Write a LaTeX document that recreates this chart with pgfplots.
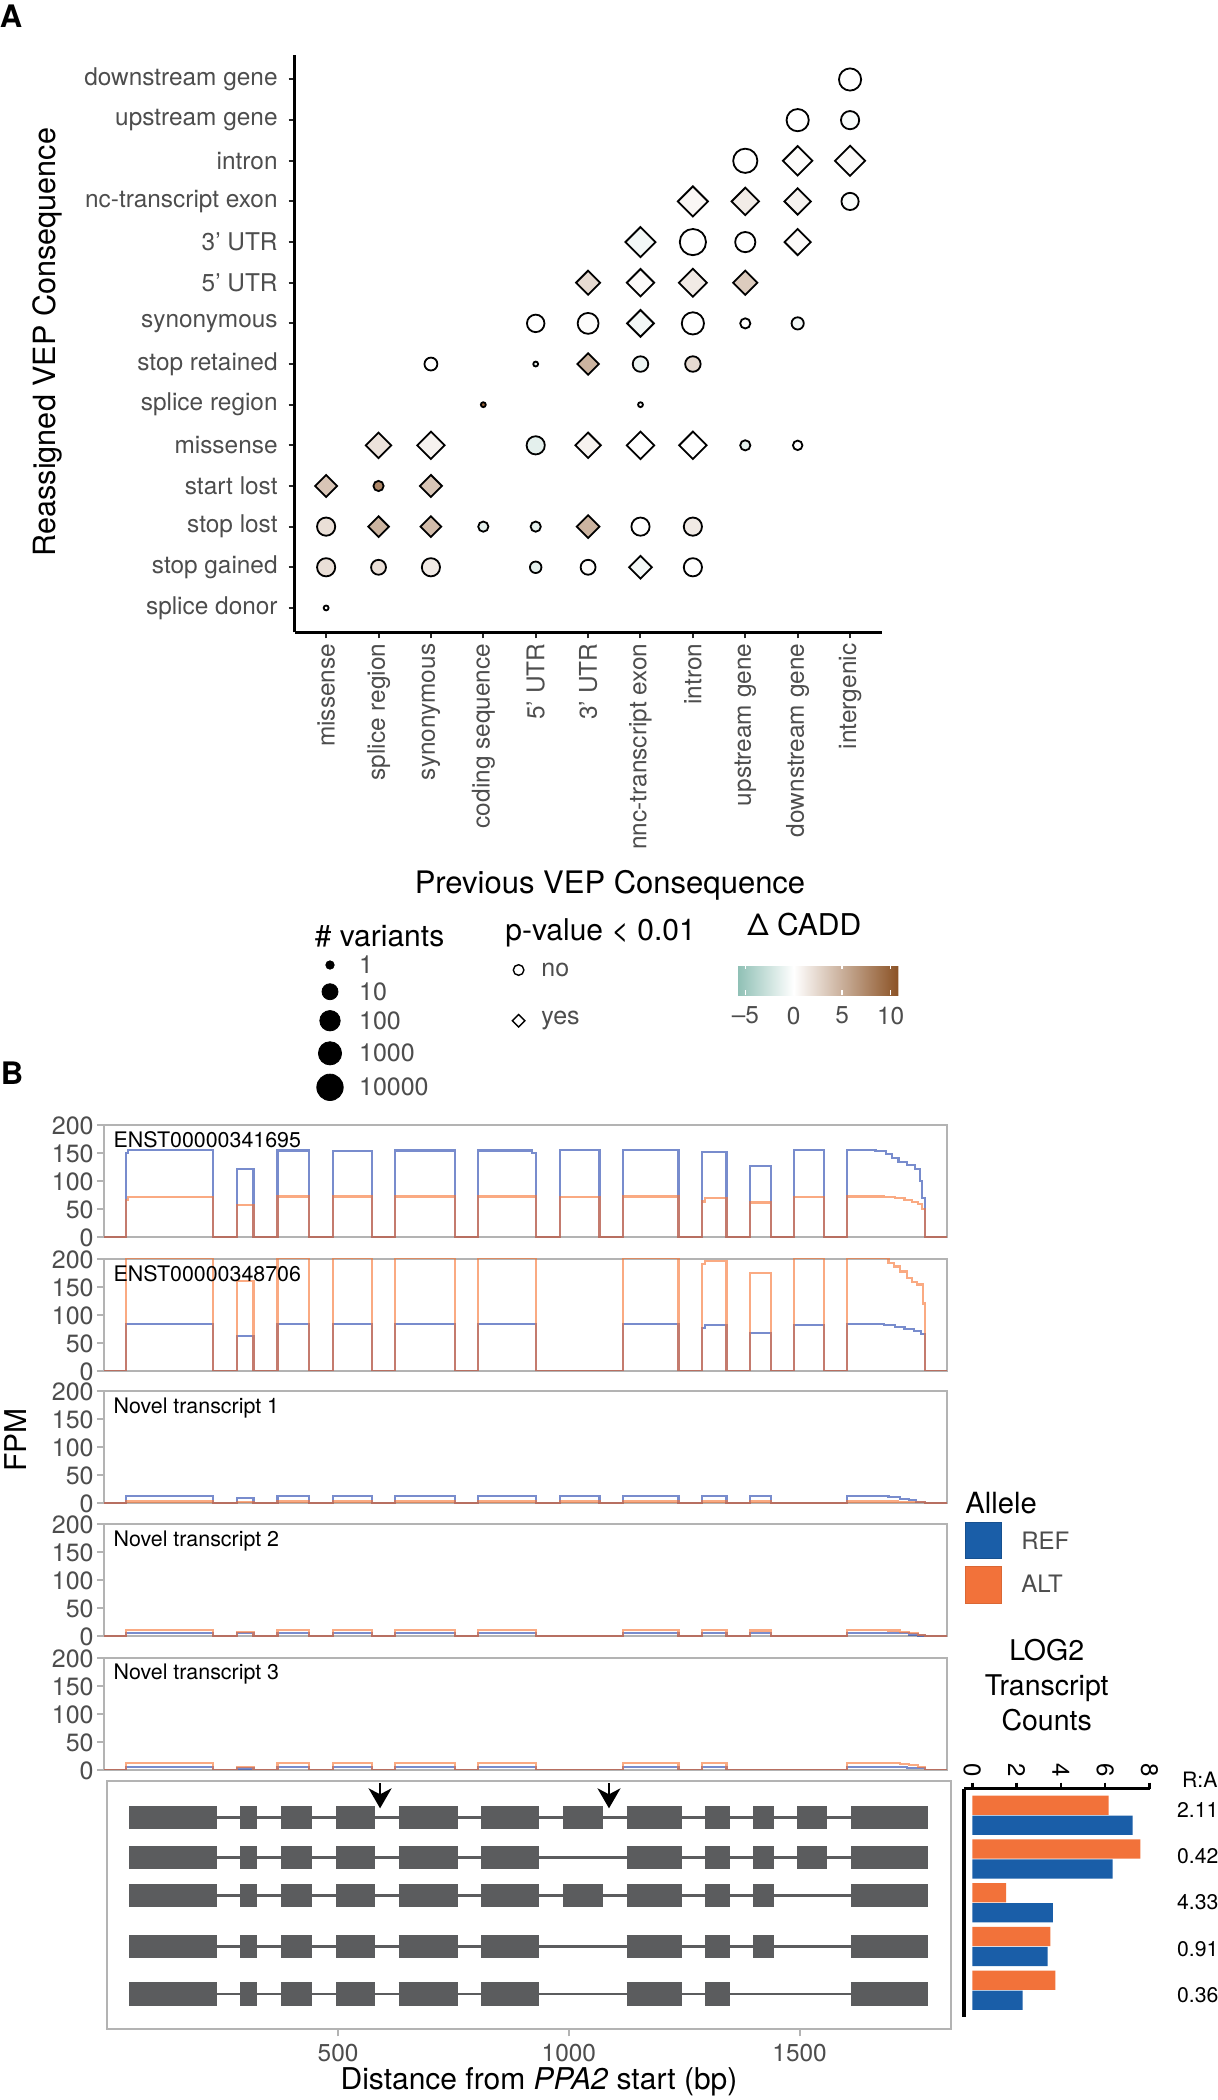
\documentclass[border=0pt]{standalone}
\usepackage{fontspec}
\setmainfont{TeX Gyre Heros}
\usepackage{pgfplots}
\usepackage{pgfplotstable}
\pgfplotsset{compat=1.18}
\usetikzlibrary{arrows.meta,calc}

\definecolor{tickgray}{HTML}{4D4D4D}
\definecolor{framegray}{HTML}{B3B3B3}
\definecolor{refbar}{HTML}{1A5EA8}
\definecolor{altbar}{HTML}{F2723A}
\definecolor{refline}{HTML}{1E3FAC}
\definecolor{altline}{HTML}{F7712F}
\definecolor{exon}{HTML}{5B5C5E}

\newcommand\fs[1]{\fontsize{#1}{#1}\selectfont}

% panel A: circles (p >= 0.01) and diamonds (p < 0.01); d = marker size in px, c = delta CADD
\pgfplotstableread{
x y d c
11 14 24 0
10 13 24 0
11 13 20 -0.4
9 12 26 0
11 11 19 -0.3
8 10 28 0
9 10 22 0
5 8 19.3 0
6 8 22.7 0.2
8 8 24 0
9 8 12 0
10 8 14 -0.6
3 7 14.7 0
5 7 6.7 -1
7 7 17.3 -1
8 7 17.3 2.3
4 6 6.7 9.7
7 6 6.7 0
5 5 20 -1.4
9 5 12 -1.4
10 5 11.3 0
2 4 12 7.5
1 3 20 2
4 3 12 -1.4
5 3 12 -1.4
7 3 20 0
8 3 20 1.3
1 2 20 2
2 2 16.7 2
3 2 20 1.3
5 2 13.3 -1.4
6 2 16.7 0.2
8 2 20 0
1 1 6.7 0
}\circA

\pgfplotstableread{
x y d c
10 12 32 0.2
11 12 32.7 0.3
8 11 32.7 0.5
9 11 30 1.2
10 11 29 0.8
7 10 32.7 -0.6
10 10 28.7 0.3
6 9 26.7 2.3
7 9 30 0.3
8 9 30.7 1.3
9 9 26.7 3.2
7 8 29.3 -0.6
6 7 24 4.7
2 5 28 1.8
3 5 30 0.8
6 5 28 0.8
7 5 30 0
8 5 30 0
1 4 24.7 3.6
3 4 24.7 3.6
2 3 23.3 4.7
3 3 23.3 4.2
6 3 25.3 4.7
7 2 25.3 -0.6
}\diamA

\pgfplotsset{
  /pgf/number format/assume math mode=true,
  /pgf/number format/1000 sep={},
  cov/.style={scale only axis, width=421.5pt, height=56.05pt, anchor=north west,
    xmin=0, xmax=1827, ymin=0, ymax=200, ytick={0,50,100,150,200}, xtick=\empty,
    axis line style={draw=framegray, line width=1pt},
    tick align=outside, major tick length=3.5pt, ytick pos=left,
    y tick style={draw=framegray, line width=1pt},
    yticklabel style={font=\fs{12.5}, text=tickgray, inner sep=0pt, anchor=east, yshift=-0.5pt},
    yticklabel shift=1.5pt, clip=true},
  refl/.style={const plot, no marks, draw=refline, line width=1.1pt, draw opacity=0.6},
  altl/.style={const plot, no marks, draw=altline, line width=1.1pt, draw opacity=0.6},
}
\tikzset{tname/.style={anchor=north west, inner sep=0pt, font=\fs{10.7}, xshift=4.65pt, yshift=-3.15pt}}

\begin{document}
\begin{tikzpicture}
\useasboundingbox (0,0) rectangle (608.5pt,-1050pt);

% ---------------- panel A ----------------
\begin{axis}[
  at={(147.35pt,-27.55pt)}, anchor=north west,
  scale only axis, width=293.4pt, height=288.6pt,
  xmin=0.4, xmax=11.6, ymin=0.4, ymax=14.6,
  axis lines*=left, axis line style={line width=1.5pt, black},
  xtick={1,...,11}, ytick={1,...,14},
  xticklabels={missense, splice region, synonymous, coding sequence, 5’ UTR, 3’ UTR, nnc-transcript exon, intron, upstream gene, downstream gene, intergenic},
  yticklabels={splice donor, stop gained, stop lost, start lost, missense, splice region, stop retained, synonymous, 5’ UTR, 3’ UTR, nc-transcript exon, intron, upstream gene, downstream gene},
  tick align=outside, major tick length=3pt, tick style={line width=1pt, black!85},
  xticklabel style={rotate=90, anchor=east, inner sep=0pt, font=\fs{12.2}, text=tickgray},
  yticklabel style={anchor=east, inner sep=0pt, font=\fs{12.2}, text=tickgray},
  xticklabel shift=2.5pt, yticklabel shift=5.35pt,
  colormap={cadd}{rgb255(0pt)=(143,192,181) rgb255(29pt)=(255,255,255) rgb255(83pt)=(139,82,37)},
  point meta min=-5.8, point meta max=10.8,
  colorbar horizontal,
  colorbar style={
    at={($(parent axis.south west)+(221.45pt,-157.2pt)$)}, anchor=north west,
    scale only axis, width=80.35pt, height=15.8pt,
    xtick={-5,0,5,10}, xticklabels={--5,0,5,10},
    xticklabel style={font=\fs{12.2}, text=tickgray, inner sep=0pt},
    xticklabel shift=5.6pt, axis line style={draw=none},
    tick align=inside, major tick length=2.5pt,
    xtick style={draw=white, line width=0.8pt}, xtick pos=both, xticklabel pos=lower},
  clip=false,
]
\addplot[scatter, only marks, mark=*, scatter src=explicit,
  scatter/use mapped color={draw=black, fill=mapped color},
  visualization depends on={\thisrow{d}\as\msz},
  scatter/@pre marker code/.append style={/tikz/mark size={\msz/4-0.45}},
  mark options={line width=0.9pt}]
  table[x=x, y=y, meta=c] {\circA};
\addplot[scatter, only marks, mark=square*, scatter src=explicit,
  scatter/use mapped color={draw=black, fill=mapped color},
  visualization depends on={\thisrow{d}\as\msz},
  scatter/@pre marker code/.append style={/tikz/mark size={(\msz/4-0.64)/1.4142}},
  mark options={line width=0.9pt, rotate=45}]
  table[x=x, y=y, meta=c] {\diamA};
\end{axis}

% ---------------- panel B: coverage ----------------
\begin{axis}[cov, at={(52pt,-562.6pt)}]
\addplot[refl] coordinates {(0,0)(48,150)(52,156)(237,0)(288,122)(324,0)(376,155)(444,0)(496,154)(581,0)(631,155)(760,0)(810,155)(928,150)(936,0)(988,156)(1074,0)(1125,156)(1245,0)(1296,152)(1349,0)(1400,127)(1445,0)(1495,156)(1560,0)(1611,156)(1672,154)(1695,148)(1708,141)(1722,135)(1740,129)(1758,122)(1768,100)(1773,70)(1779,0)(1827,0)};
\addplot[altl] coordinates {(0,0)(48,66)(52,72)(237,0)(288,58)(324,0)(376,73)(444,0)(496,73)(581,0)(631,73)(760,0)(810,73)(936,0)(988,72)(1074,0)(1125,73)(1245,0)(1296,64)(1303,70)(1349,0)(1400,62)(1445,0)(1495,72)(1560,0)(1611,73)(1690,72)(1715,70)(1735,67)(1752,63)(1765,59)(1773,50)(1779,0)(1827,0)};
\node[tname] at (rel axis cs:0,1) {ENST00000341695};
\end{axis}

\begin{axis}[cov, at={(52pt,-629.3pt)}]
\addplot[refl] coordinates {(0,0)(48,83)(237,0)(288,62)(324,0)(376,83)(444,0)(496,83)(581,0)(631,83)(760,0)(810,83)(936,0)(1125,83)(1245,0)(1296,76)(1303,81)(1349,0)(1400,68)(1445,0)(1495,81)(1560,0)(1611,83)(1690,81)(1715,78)(1735,75)(1755,71)(1770,66)(1779,0)(1827,0)};
\addplot[altl] coordinates {(0,0)(48,201)(237,0)(288,160)(324,0)(376,201)(444,0)(496,201)(581,0)(631,201)(760,0)(810,201)(936,0)(1125,201)(1245,0)(1296,190)(1303,196)(1349,0)(1400,174)(1445,0)(1495,201)(1560,0)(1611,201)(1700,192)(1712,186)(1725,177)(1740,165)(1752,158)(1762,154)(1775,120)(1779,0)(1827,0)};
\node[tname] at (rel axis cs:0,1) {ENST00000348706};
\end{axis}

\begin{axis}[cov, at={(52pt,-695.5pt)}]
\addplot[refl] coordinates {(0,0)(48,12)(237,0)(288,9)(324,0)(376,12)(444,0)(496,12)(581,0)(631,12)(760,0)(810,12)(936,0)(988,12)(1074,0)(1125,12)(1245,0)(1296,12)(1349,0)(1400,12)(1445,0)(1611,12)(1700,11)(1725,8)(1745,5)(1760,2)(1779,0)(1827,0)};
\addplot[altl] coordinates {(0,0)(48,3)(237,0)(288,2)(324,0)(376,3)(444,0)(496,3)(581,0)(631,3)(760,0)(810,3)(936,0)(988,3)(1074,0)(1125,3)(1245,0)(1296,3)(1349,0)(1400,3)(1445,0)(1611,3)(1720,2)(1779,0)(1827,0)};
\node[tname] at (rel axis cs:0,1) {Novel transcript 1};
\end{axis}

\begin{axis}[cov, at={(52pt,-762pt)}]
\addplot[refl] coordinates {(0,0)(48,6)(237,0)(288,5)(324,0)(376,6)(444,0)(496,6)(581,0)(631,6)(760,0)(810,6)(936,0)(1125,6)(1245,0)(1296,6)(1349,0)(1400,6)(1445,0)(1611,6)(1720,5)(1745,3)(1765,1)(1779,0)(1827,0)};
\addplot[altl] coordinates {(0,0)(48,10.5)(237,0)(288,7)(324,0)(376,10.5)(444,0)(496,10.5)(581,0)(631,10.5)(760,0)(810,10.5)(936,0)(1125,10.5)(1245,0)(1296,10.5)(1349,0)(1400,10)(1445,0)(1611,10.5)(1700,10)(1725,8)(1745,5)(1765,2)(1779,0)(1827,0)};
\node[tname] at (rel axis cs:0,1) {Novel transcript 2};
\end{axis}

\begin{axis}[cov, at={(52pt,-828.75pt)}]
\addplot[refl] coordinates {(0,0)(48,5)(237,0)(288,2)(324,0)(376,5)(444,0)(496,5)(581,0)(631,5)(760,0)(810,5)(936,0)(1125,5)(1245,0)(1296,5)(1349,0)(1611,5)(1740,3)(1779,0)(1827,0)};
\addplot[altl] coordinates {(0,0)(48,12.5)(237,0)(288,5)(324,0)(376,12.5)(444,0)(496,12.5)(581,0)(631,12.5)(760,0)(810,12.5)(936,0)(1125,12.5)(1245,0)(1296,12.5)(1349,0)(1611,12.5)(1700,12)(1725,10)(1745,8)(1765,5)(1779,0)(1827,0)};
\node[tname] at (rel axis cs:0,1) {Novel transcript 3};
\end{axis}

% ---------------- panel B: transcript models ----------------
\begin{axis}[
  at={(53.65pt,-890.5pt)}, anchor=north west,
  scale only axis, width=421.85pt, height=124.15pt,
  xmin=0, xmax=1828, ymin=-2029.3, ymax=-1781,
  xtick={500,1000,1500}, ytick=\empty, xtick pos=left,
  axis line style={draw=framegray, line width=1pt},
  tick align=outside, major tick length=3.5pt,
  x tick style={draw=framegray, line width=1pt},
  xticklabel style={font=\fs{12.2}, text=tickgray, inner sep=0pt},
  xticklabel shift=3.85pt,
  unbounded coords=jump, clip=false,
]
\addplot[draw=exon, line width=1.35pt] coordinates {(48,-1817.7)(1779,-1817.7)(nan,nan)(48,-1857.5)(1779,-1857.5)(nan,nan)(48,-1895.8)(1779,-1895.8)(nan,nan)(48,-1946.5)(1779,-1946.5)(nan,nan)(48,-1994)(1779,-1994)};
\addplot[draw=exon, line width=11.65pt] coordinates {(48,-1817.7)(237,-1817.7)(nan,nan)(288,-1817.7)(324,-1817.7)(nan,nan)(376,-1817.7)(444,-1817.7)(nan,nan)(496,-1817.7)(581,-1817.7)(nan,nan)(631,-1817.7)(760,-1817.7)(nan,nan)(810,-1817.7)(936,-1817.7)(nan,nan)(988,-1817.7)(1074,-1817.7)(nan,nan)(1125,-1817.7)(1245,-1817.7)(nan,nan)(1296,-1817.7)(1349,-1817.7)(nan,nan)(1400,-1817.7)(1445,-1817.7)(nan,nan)(1495,-1817.7)(1560,-1817.7)(nan,nan)(1611,-1817.7)(1779,-1817.7)};
\addplot[draw=exon, line width=11.65pt] coordinates {(48,-1857.5)(237,-1857.5)(nan,nan)(288,-1857.5)(324,-1857.5)(nan,nan)(376,-1857.5)(444,-1857.5)(nan,nan)(496,-1857.5)(581,-1857.5)(nan,nan)(631,-1857.5)(760,-1857.5)(nan,nan)(810,-1857.5)(936,-1857.5)(nan,nan)(1125,-1857.5)(1245,-1857.5)(nan,nan)(1296,-1857.5)(1349,-1857.5)(nan,nan)(1400,-1857.5)(1445,-1857.5)(nan,nan)(1495,-1857.5)(1560,-1857.5)(nan,nan)(1611,-1857.5)(1779,-1857.5)};
\addplot[draw=exon, line width=11.65pt] coordinates {(48,-1895.8)(237,-1895.8)(nan,nan)(288,-1895.8)(324,-1895.8)(nan,nan)(376,-1895.8)(444,-1895.8)(nan,nan)(496,-1895.8)(581,-1895.8)(nan,nan)(631,-1895.8)(760,-1895.8)(nan,nan)(810,-1895.8)(936,-1895.8)(nan,nan)(988,-1895.8)(1074,-1895.8)(nan,nan)(1125,-1895.8)(1245,-1895.8)(nan,nan)(1296,-1895.8)(1349,-1895.8)(nan,nan)(1400,-1895.8)(1445,-1895.8)(nan,nan)(1611,-1895.8)(1779,-1895.8)};
\addplot[draw=exon, line width=11.65pt] coordinates {(48,-1946.5)(237,-1946.5)(nan,nan)(288,-1946.5)(324,-1946.5)(nan,nan)(376,-1946.5)(444,-1946.5)(nan,nan)(496,-1946.5)(581,-1946.5)(nan,nan)(631,-1946.5)(760,-1946.5)(nan,nan)(810,-1946.5)(936,-1946.5)(nan,nan)(1125,-1946.5)(1245,-1946.5)(nan,nan)(1296,-1946.5)(1349,-1946.5)(nan,nan)(1400,-1946.5)(1445,-1946.5)(nan,nan)(1611,-1946.5)(1779,-1946.5)};
\addplot[draw=exon, line width=11.65pt] coordinates {(48,-1994)(237,-1994)(nan,nan)(288,-1994)(324,-1994)(nan,nan)(376,-1994)(444,-1994)(nan,nan)(496,-1994)(581,-1994)(nan,nan)(631,-1994)(760,-1994)(nan,nan)(810,-1994)(936,-1994)(nan,nan)(1125,-1994)(1245,-1994)(nan,nan)(1296,-1994)(1349,-1994)(nan,nan)(1611,-1994)(1779,-1994)};
\draw[line width=1pt, -{Stealth[length=10pt, width=11.5pt, inset=3pt]}] (axis cs:591,-1783) -- (axis cs:591,-1808.3);
\draw[line width=1pt, -{Stealth[length=10pt, width=11.5pt, inset=3pt]}] (axis cs:1087,-1783) -- (axis cs:1087,-1808.3);
\end{axis}

% ---------------- panel B: LOG2 transcript counts ----------------
\begin{axis}[
  at={(482pt,-894.25pt)}, anchor=north west,
  scale only axis, width=93pt, height=114pt,
  xmin=-0.375, xmax=8.03, ymin=0.398, ymax=5.609,
  axis x line*=top, axis y line*=left,
  axis line style={line width=1.6pt, black},
  xtick={0,2,4,6,8}, ytick=\empty,
  tick align=outside, major tick length=3pt,
  x tick style={line width=1.2pt, black},
  xticklabel style={rotate=-90, anchor=east, inner sep=0pt, font=\fs{12}},
  xticklabel shift=2.4pt,
]
\addplot[xbar, bar width=9.6pt, bar shift=0pt, fill=altbar, draw=none] coordinates {(6.16,5.2286)(7.6,4.2286)(1.53,3.2286)(3.53,2.2286)(3.75,1.2286)};
\addplot[xbar, bar width=9.6pt, bar shift=0pt, fill=refbar, draw=none] coordinates {(7.24,4.7714)(6.34,3.7714)(3.64,2.7714)(3.40,1.7714)(2.27,0.7714)};
\end{axis}

% ---------------- titles, legends, labels (pixel grid of the figure) ----------------
\begin{axis}[
  at={(0pt,0pt)}, anchor=north west, scale only axis,
  width=608.5pt, height=1050pt,
  xmin=0, xmax=1217, ymin=-2100, ymax=0,
  hide axis, clip=false,
]
\node[font=\fs{15.5}\bfseries] at (axis cs:11,-16.5) {A};
\node[font=\fs{15.5}\bfseries] at (axis cs:12,-1073) {B};
\node[rotate=90, font=\fs{15.3}] at (axis cs:47.6,-342) {Reassigned VEP Consequence};
\node[font=\fs{15.5}] at (axis cs:610,-885) {Previous VEP Consequence};
\node[anchor=west, inner sep=0pt, font=\fs{15}] at (axis cs:314.4,-936) {\# variants};
\node[anchor=west, inner sep=0pt, font=\fs{15}] at (axis cs:505,-933.3) {p-value < 0.01};
\node[anchor=west, inner sep=0pt, font=\fs{15}] at (axis cs:747,-925) {Δ CADD};
\addplot[only marks, mark=*, mark size=2.1pt, black] coordinates {(330,-965)};
\addplot[only marks, mark=*, mark size=4.0pt, black] coordinates {(330,-991.7)};
\addplot[only marks, mark=*, mark size=5.1pt, black] coordinates {(330,-1020.7)};
\addplot[only marks, mark=*, mark size=5.8pt, black] coordinates {(330,-1053.3)};
\addplot[only marks, mark=*, mark size=6.6pt, black] coordinates {(330,-1087.3)};
\begin{scope}[every node/.style={anchor=west, inner sep=0pt, font=\fs{12.5}, text=tickgray}]
\node at (axis cs:358.7,-965) {1};
\node at (axis cs:358.7,-991.7) {10};
\node at (axis cs:358.7,-1020.7) {100};
\node at (axis cs:358.7,-1053.3) {1000};
\node at (axis cs:358.7,-1087.3) {10000};
\node at (axis cs:541,-970) {no};
\node at (axis cs:541,-1020.7) {yes};
\end{scope}
\addplot[only marks, mark=o, mark size=2.65pt, mark options={draw=black, line width=0.7pt}] coordinates {(518.6,-970)};
\addplot[only marks, mark=square, mark size=2.2pt, mark options={draw=black, line width=0.7pt, rotate=45}] coordinates {(518.6,-1020.7)};

\node[rotate=90, font=\fs{15}] at (axis cs:15.5,-1440) {FPM};
\node[anchor=west, inner sep=0pt, font=\fs{14.6}] at (axis cs:965,-1503) {Allele};
\addplot[only marks, mark=square*, mark size=9.1pt, mark options={fill=refbar, draw=refbar!85!black, line width=0.4pt}] coordinates {(983.3,-1540.2)};
\addplot[only marks, mark=square*, mark size=9.1pt, mark options={fill=altbar, draw=altbar!90!black, line width=0.4pt}] coordinates {(983.3,-1584.8)};
\node[anchor=west, inner sep=0pt, font=\fs{12}, text=tickgray] at (axis cs:1021,-1540.7) {REF};
\node[anchor=west, inner sep=0pt, font=\fs{12}, text=tickgray] at (axis cs:1021,-1583.6) {ALT};
\node[align=center, font=\fontsize{14.25}{17.5}\selectfont] at (axis cs:1046.7,-1685) {LOG2\\Transcript\\Counts};
\begin{scope}[every node/.style={anchor=west, inner sep=0pt, font=\fs{10.6}}]
\node at (axis cs:1181.7,-1779.7) {R:A};
\node at (axis cs:1176.7,-1809.6) {2.11};
\node at (axis cs:1176.7,-1855.9) {0.42};
\node at (axis cs:1176.7,-1901.8) {4.33};
\node at (axis cs:1176.7,-1948.8) {0.91};
\node at (axis cs:1176.7,-1995.5) {0.36};
\end{scope}
\node[font=\fs{15}] at (axis cs:539,-2081.7) {Distance from \textit{PPA2} start (bp)};
\end{axis}
\end{tikzpicture}
\end{document}
